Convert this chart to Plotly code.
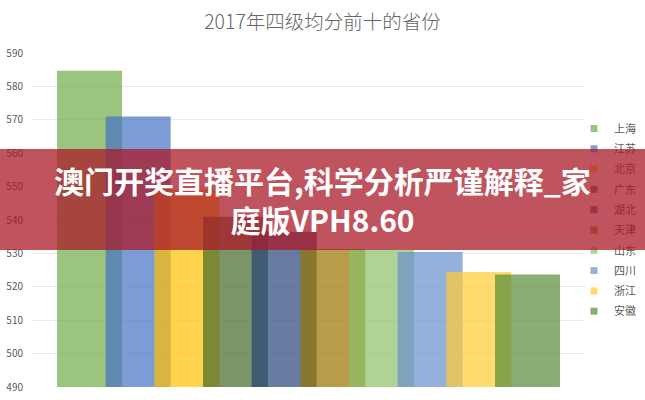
import plotly.graph_objects as go

# ---- data ----
provinces = ['上海', '江苏', '北京', '广东', '湖北', '天津', '山东', '四川', '浙江', '安徽']
scores = [584.7, 571.0, 549.2, 541.0, 536.5, 531.3, 531.0, 530.4, 524.4, 523.7]
bar_colors = ['#70AD47', '#4472C4', '#FFC000', '#43682B', '#264478',
              '#997300', '#8CC168', '#698ED0', '#FFCD33', '#578A38']
y_ticks = [490, 500, 510, 520, 530, 540, 550, 560, 570, 580, 590]
title_text = '2017年四级均分前十的省份'
banner_lines = ['澳门开奖直播平台,科学分析严谨解释_家', '庭版VPH8.60']

# ---- style ----
W, H = 645, 400
ML, MR, MT, MB = 32, 60, 53, 13
BAR_W = 0.1175
STEP = 0.088
ALPHA = 0.7
FONT = 'Noto Sans CJK SC'
GRAY = '#595959'


def rgba(hex_color, a):
    h = hex_color.lstrip('#')
    r, g, b = int(h[0:2], 16), int(h[2:4], 16), int(h[4:6], 16)
    return f'rgba({r},{g},{b},{a})'


n = len(provinces)
start = -(STEP * (n - 1) + BAR_W) / 2

fig = go.Figure()
for i, (name, val, col) in enumerate(zip(provinces, scores, bar_colors)):
    fig.add_trace(go.Bar(
        x=[0], y=[val], name=name,
        width=BAR_W, offset=start + i * STEP,
        marker=dict(color=rgba(col, ALPHA), line=dict(width=0)),
        legendgroup=name, showlegend=False,
        hoverinfo='name+y',
    ))
# small square legend markers
for name, col in zip(provinces, bar_colors):
    fig.add_trace(go.Scatter(
        x=[None], y=[None], mode='markers', name=name, legendgroup=name,
        marker=dict(symbol='square', size=7, color=rgba(col, ALPHA)),
        showlegend=True, hoverinfo='skip',
    ))

pw = W - ML - MR
ph = H - MT - MB

def px_to_paper_x(px):
    return (px - ML) / pw

def px_to_paper_y(py):
    return 1 - (py - MT) / ph

banner_top, banner_bot = 149, 250

fig.update_layout(
    width=W, height=H,
    margin=dict(l=ML, r=MR, t=MT, b=MB, autoexpand=False),
    paper_bgcolor='white', plot_bgcolor='white',
    barmode='overlay',
    showlegend=True,
    title=dict(text=title_text, x=0.5, xref='container', y=1 - 22 / H,
               yref='container', xanchor='center', yanchor='middle',
               font=dict(family=FONT, size=19.5, color='#666666', weight=300)),
    xaxis=dict(range=[-0.5, 0.5], visible=False, fixedrange=True),
    yaxis=dict(range=[490, 590], tickvals=y_ticks, showgrid=True,
               gridcolor='#EAEAEA', gridwidth=1, zeroline=False,
               showline=False, ticks='', ticklabelstandoff=8,
               tickfont=dict(family=FONT, size=10, color=GRAY)),
    legend=dict(x=px_to_paper_x(574), xanchor='left', y=0.5, yanchor='middle',
                xref='paper', yref='paper', traceorder='grouped',
                tracegroupgap=1.3, itemwidth=30,
                font=dict(family=FONT, size=11, color=GRAY),
                bgcolor='rgba(0,0,0,0)'),
    font=dict(family=FONT),
)

# banner (annotation with background, drawn above the legend)
fig.add_annotation(
    xref='paper', yref='paper',
    x=px_to_paper_x(W / 2), y=px_to_paper_y((banner_top + banner_bot) / 2),
    xanchor='center', yanchor='middle', valign='middle', align='center',
    text='<br>'.join(banner_lines), showarrow=False,
    width=W, height=banner_bot - banner_top,
    bgcolor='rgba(170,25,40,0.75)', borderpad=0, borderwidth=0,
    font=dict(family=FONT, size=30, color='white', weight='bold'),
)

fig.write_html('out.html', config={'displayModeBar': False},
               post_script="document.body.style.margin='0';document.body.style.overflow='hidden';")
